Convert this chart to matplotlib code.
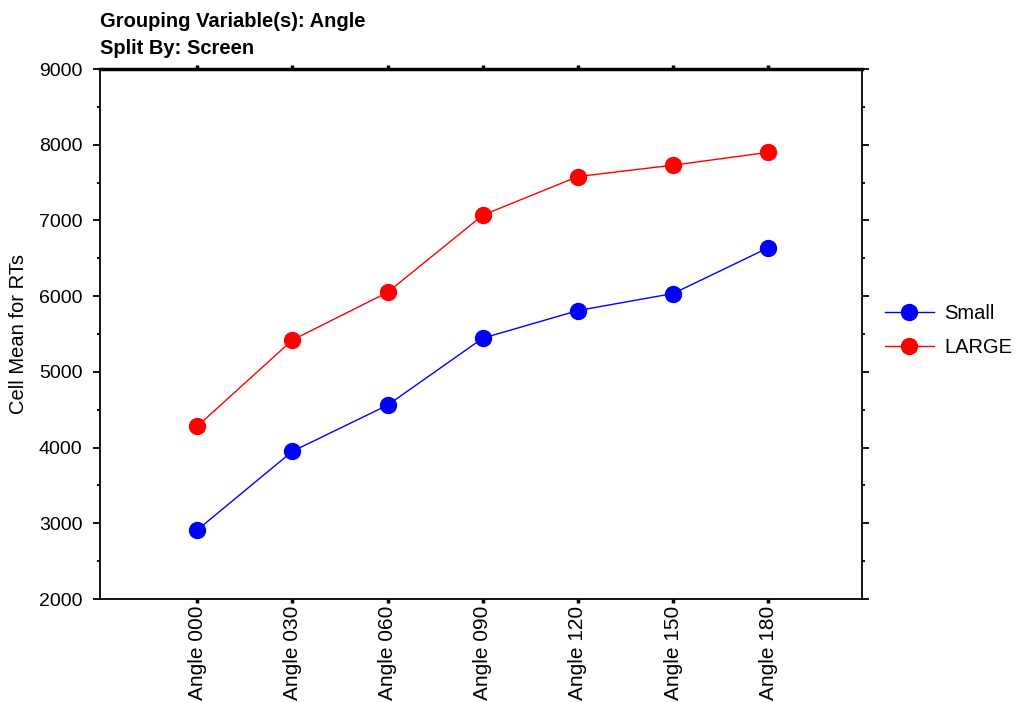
import numpy as np
import matplotlib
matplotlib.use("Agg")
import matplotlib.pyplot as plt
from matplotlib.ticker import MultipleLocator

plt.rcParams['font.family'] = ['Liberation Sans', 'DejaVu Sans']

angles = ['Angle 000', 'Angle 030', 'Angle 060', 'Angle 090',
          'Angle 120', 'Angle 150', 'Angle 180']
small = [2910, 3950, 4560, 5445, 5810, 6035, 6640]
large = [4280, 5420, 6050, 7070, 7580, 7730, 7900]

fig = plt.figure(figsize=(10.15, 7.02), dpi=100)
ax = fig.add_axes([0.0985, 0.1467, 0.7505, 0.755])

x = np.arange(len(angles))
ax.plot(x, small, color='#0000ff', lw=1, marker='o', ms=11.5, label='Small')
ax.plot(x, large, color='#ff0000', lw=1, marker='o', ms=11.5, label='LARGE')

ax.set_xlim(-1.02, len(angles) - 0.02)
ax.set_ylim(2000, 9000)
ax.set_xticks(x)
ax.set_xticklabels(angles, rotation=90, fontsize=15)
ax.yaxis.set_major_locator(MultipleLocator(1000))
ax.yaxis.set_minor_locator(MultipleLocator(500))
ax.tick_params(axis='y', which='major', direction='out', length=5, width=1.3,
               labelsize=14, right=True, pad=7.5)
ax.tick_params(axis='y', which='minor', direction='out', length=2.5, width=1.3,
               right=True)
ax.tick_params(axis='x', which='major', direction='out', length=3, width=2.5,
               top=True, pad=2)
for s in ['left', 'right', 'bottom']:
    ax.spines[s].set_linewidth(1.3)
ax.spines['top'].set_linewidth(2.5)

ax.set_ylabel('Cell Mean for RTs', fontsize=14.5)
ax.yaxis.set_label_coords(-0.0945, 0.5)

fig.text(0.0985, 0.962, 'Grouping Variable(s): Angle', fontsize=14.5,
         fontweight='bold', va='baseline')
fig.text(0.0985, 0.9235, 'Split By: Screen', fontsize=14.5,
         fontweight='bold', va='baseline')

ax.legend(loc='center left', bbox_to_anchor=(1.007, 0.506), frameon=False,
          fontsize=14.5, handlelength=2.4, handletextpad=0.55, labelspacing=0.75)

fig.savefig('out.png', dpi=100)
